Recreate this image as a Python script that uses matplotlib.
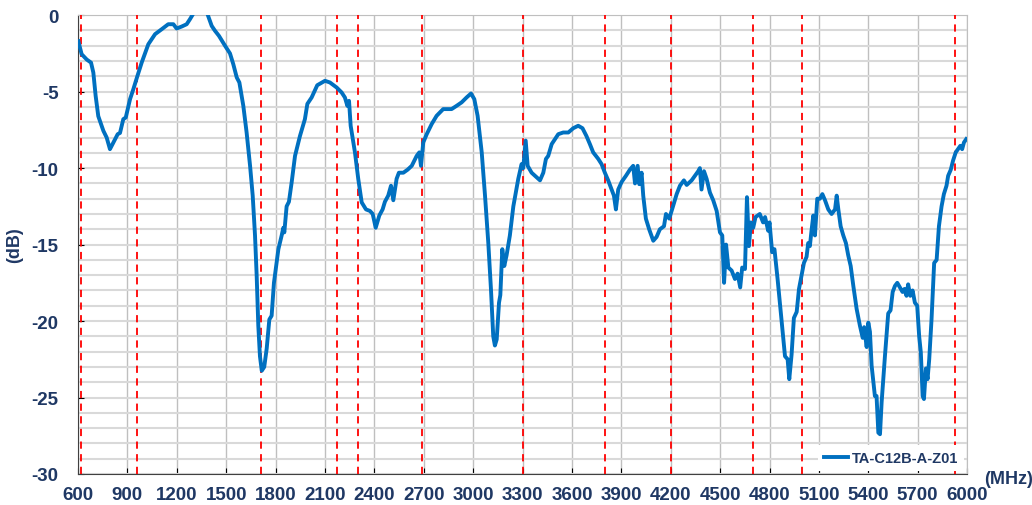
import matplotlib; matplotlib.use('Agg')
import matplotlib.pyplot as plt
import numpy as np

# values
freq_mhz = [602, 622, 653, 679, 693, 707, 723, 754, 774, 794, 821, 841, 855, 875, 890, 916, 936, 958, 987,
            1027, 1068, 1108, 1148, 1179, 1199, 1230, 1260, 1280, 1300, 1320, 1345, 1370, 1391, 1412, 1432,
            1456, 1493, 1523, 1543, 1564, 1580, 1604, 1624, 1645, 1661, 1675, 1685, 1695, 1705, 1716, 1731,
            1746, 1762, 1776, 1790, 1817, 1837, 1847, 1853, 1867, 1881, 1898, 1918, 1948, 1978, 1993, 2019,
            2053, 2100, 2130, 2171, 2201, 2221, 2236, 2246, 2256, 2282, 2302, 2323, 2349, 2373, 2390, 2408,
            2430, 2450, 2464, 2484, 2501, 2515, 2535, 2549, 2576, 2602, 2627, 2657, 2673, 2683, 2697, 2718,
            2748, 2778, 2818, 2869, 2899, 2930, 2960, 2987, 3007, 3027, 3052, 3072, 3092, 3108, 3122, 3132,
            3143, 3157, 3165, 3177, 3189, 3203, 3223, 3244, 3274, 3294, 3304, 3319, 3331, 3355, 3386, 3406,
            3426, 3442, 3456, 3477, 3497, 3517, 3547, 3578, 3608, 3638, 3664, 3688, 3709, 3729, 3760, 3780,
            3800, 3820, 3841, 3855, 3867, 3881, 3902, 3928, 3952, 3972, 3983, 3999, 4009, 4023, 4033, 4049,
            4069, 4094, 4114, 4134, 4159, 4171, 4191, 4211, 4236, 4256, 4280, 4297, 4327, 4347, 4367, 4377,
            4387, 4402, 4418, 4438, 4458, 4479, 4499, 4513, 4524, 4536, 4550, 4570, 4590, 4606, 4622, 4634,
            4651, 4663, 4675, 4687, 4701, 4715, 4741, 4761, 4773, 4792, 4800, 4816, 4830, 4849, 4863, 4877,
            4894, 4910, 4920, 4934, 4948, 4965, 4979, 4995, 5009, 5025, 5035, 5045, 5056, 5066, 5076, 5090,
            5106, 5121, 5137, 5157, 5177, 5198, 5208, 5218, 5232, 5248, 5264, 5278, 5293, 5309, 5329, 5349,
            5366, 5375, 5390, 5400, 5410, 5420, 5440, 5450, 5461, 5471, 5481, 5501, 5521, 5535, 5548, 5562,
            5576, 5592, 5608, 5620, 5632, 5642, 5655, 5669, 5683, 5697, 5709, 5719, 5730, 5738, 5750, 5760,
            5770, 5784, 5800, 5815, 5829, 5845, 5859, 5875, 5885, 5901, 5915, 5931, 5945, 5959, 5970, 5981,
            5995]
s11_db = [-1.7, -2.55, -2.9, -3.1, -3.75, -5.27, -6.6, -7.56, -8.0, -8.76, -8.2, -7.78, -7.7, -6.8, -6.69, -5.49, -4.84, -4.07, -3.09,
          -1.9, -1.24, -0.92, -0.59, -0.59, -0.87, -0.74, -0.59, -0.26, 0.1, 0.6, 0.9, 0.6, -0.07, -0.7, -1.02,
          -1.35, -2.0, -2.5, -3.2, -4.07, -4.4, -5.93, -7.67, -9.85, -11.8, -14.4, -17.0, -20.3, -22.3, -23.25, -23.0,
          -21.8, -19.9, -19.65, -17.5, -15.3, -14.4, -13.9, -14.2, -12.5, -12.2, -10.9, -9.2, -7.9, -6.8, -5.8, -5.38,
          -4.58, -4.29, -4.4, -4.73, -5.05, -5.38, -5.93, -5.6, -7.23, -8.97, -10.7, -12.24, -12.7, -12.8, -13.0, -13.9,
          -13.1, -12.7, -12.2, -11.8, -11.15, -12.1, -10.7, -10.3, -10.3, -10.1, -9.85, -9.2, -8.97, -9.85, -8.32, -7.78,
          -7.12, -6.58, -6.14, -6.14, -5.93, -5.7, -5.38, -5.12, -5.49, -6.58, -8.97, -11.8, -14.9, -17.9, -21.0, -21.6,
          -21.2, -18.8, -18.3, -15.3, -16.4, -15.7, -14.4, -12.5, -10.7, -9.74, -10.0, -8.2, -9.85, -10.3, -10.6, -10.8,
          -10.3, -9.4, -9.2, -8.43, -8.1, -7.78, -7.67, -7.67, -7.39, -7.23, -7.39, -7.9, -8.43, -8.97, -9.4, -9.74,
          -10.3, -10.8, -11.4, -11.8, -12.7, -11.4, -10.9, -10.5, -10.1, -9.85, -11.0, -9.85, -11.05, -10.3, -11.8, -13.3,
          -14.0, -14.75, -14.5, -14.0, -13.8, -13.0, -13.3, -12.6, -11.7, -11.15, -10.8, -11.1, -10.8, -10.5, -10.2, -10.0,
          -11.4, -10.2, -10.7, -11.6, -12.1, -12.8, -14.2, -14.4, -17.5, -15.0, -16.5, -16.7, -17.25, -16.9, -17.8, -16.5,
          -16.6, -11.9, -15.1, -13.55, -13.9, -13.2, -13.0, -13.55, -13.2, -14.1, -13.55, -15.5, -15.3, -17.25, -18.8, -20.3,
          -22.3, -22.5, -23.8, -22.2, -19.8, -19.4, -17.9, -17.0, -16.2, -15.8, -14.9, -15.1, -14.0, -13.1, -14.4, -12.0,
          -12.0, -11.7, -12.1, -12.7, -13.0, -12.7, -11.8, -12.7, -13.8, -14.4, -14.9, -15.7, -16.4, -17.7, -19.2, -20.3,
          -21.1, -20.4, -21.7, -20.1, -20.7, -22.9, -24.9, -24.9, -27.3, -27.4, -25.3, -22.3, -19.5, -19.3, -18.1, -17.7,
          -17.5, -17.8, -18.1, -17.9, -18.35, -17.6, -18.35, -18.0, -18.8, -19.0, -21.0, -22.05, -24.9, -25.1, -23.1, -23.8,
          -22.5, -19.9, -16.2, -16.0, -13.8, -12.5, -11.7, -11.15, -10.5, -10.1, -9.5, -8.97, -8.76, -8.54, -8.76, -8.32,
          -8.1]
band_edges = [617, 960, 1710, 2170, 2300, 2690, 3300, 3800, 4200, 4700, 5000, 5925]
series_name = "TA-C12B-A-Z01"
assert len(freq_mhz) == len(s11_db)

NAVY = '#1F3864'
plt.rcParams['font.family'] = ['Liberation Sans', 'DejaVu Sans']
plt.rcParams['axes.unicode_minus'] = False

fig = plt.figure(figsize=(10.32, 5.06), dpi=100)
ax = fig.add_axes([0.0756, 0.0613, 0.8615, 0.9067])

ax.plot(freq_mhz, s11_db, color='#0070C0', lw=2.8, label=series_name, zorder=4, solid_joinstyle='round')
for f in band_edges:
    ax.axvline(f, color='#FF0000', lw=1.3, linestyle=(0, (4, 3)), zorder=3)

ax.set_xlim(600, 6000); ax.set_ylim(-30, 0)
ax.set_xticks(np.arange(600, 6001, 300))
ax.set_yticks(np.arange(-30, 1, 5))
ax.set_yticks(np.arange(-30, 1, 1), minor=True)
ax.grid(axis='y', which='both', color='#D9D9D9', lw=1.5, zorder=0)
ax.grid(axis='x', which='major', color='#BFBFBF', lw=1.0, zorder=0)
ax.set_axisbelow(True)
ax.tick_params(axis='both', which='major', direction='in', length=4, labelsize=13.5, labelcolor=NAVY)
ax.tick_params(axis='x', which='major', pad=9)
ax.tick_params(axis='y', which='major', pad=14)
ax.tick_params(axis='y', which='minor', length=0)
for lab in ax.get_xticklabels() + ax.get_yticklabels(): lab.set_fontweight('bold')
for s in ['top', 'right']: ax.spines[s].set_color('#BFBFBF')
for s in ['left', 'bottom']: ax.spines[s].set_color('#404040')

ax.set_ylabel('(dB)', fontsize=13, fontweight='bold', color=NAVY, labelpad=6)
fig.text(0.954, 0.053, '(MHz)', fontsize=13, fontweight='bold', color=NAVY, ha='left', va='center')

leg = ax.legend(loc='lower right', frameon=True, fancybox=False, framealpha=1, edgecolor='none',
                borderaxespad=0.2, handlelength=1.6, handletextpad=0.3, prop={'size': 10.5, 'weight': 'bold'})
for t in leg.get_texts(): t.set_color(NAVY)

plt.savefig('out.png', dpi=100)
plt.close()
